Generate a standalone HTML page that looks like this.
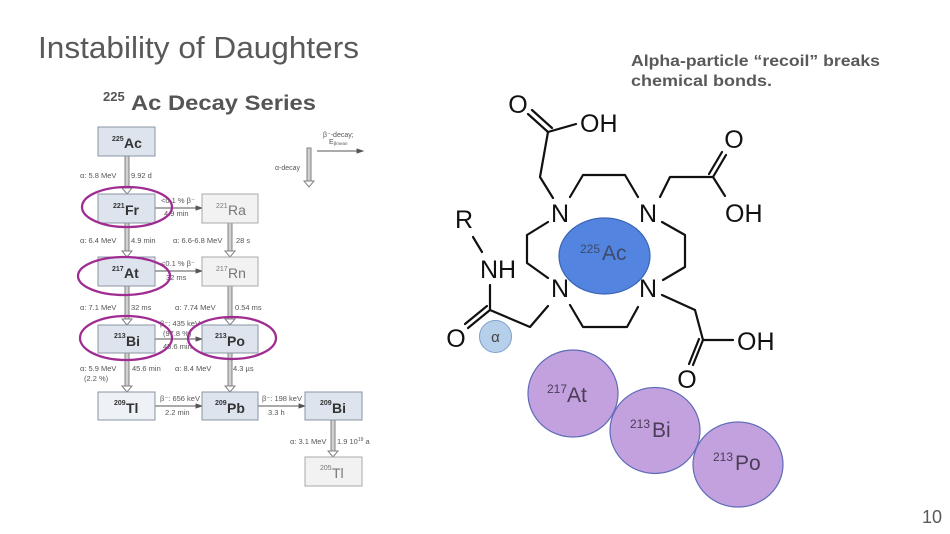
<!DOCTYPE html>
<html><head><meta charset="utf-8"><style>
html,body{margin:0;padding:0;background:#fff;}
svg{display:block;}
text{font-family:"Liberation Sans",sans-serif;}
</style></head><body>
<svg width="950" height="534" viewBox="0 0 950 534" xmlns="http://www.w3.org/2000/svg">
<rect width="950" height="534" fill="#fff"/>
<!-- Title -->
<text x="38" y="58" font-size="31" fill="#595959" textLength="321" lengthAdjust="spacingAndGlyphs">Instability of Daughters</text>
<!-- Subtitle -->
<text x="103" y="101" font-size="13" font-weight="bold" fill="#555">225</text>
<text x="131" y="110" font-size="21" font-weight="bold" fill="#555" textLength="185" lengthAdjust="spacingAndGlyphs">Ac Decay Series</text>
<!-- Right text -->
<text x="631" y="66" font-size="15.5" font-weight="bold" fill="#595959" textLength="249" lengthAdjust="spacingAndGlyphs">Alpha-particle “recoil” breaks</text>
<text x="631" y="86" font-size="15.5" font-weight="bold" fill="#595959" textLength="141" lengthAdjust="spacingAndGlyphs">chemical bonds.</text>
<!-- page number -->
<text x="922" y="523" font-size="18" fill="#595959">10</text>

<!-- ===== Decay chart ===== -->
<g stroke="#808080" stroke-width="1">
  <!-- vertical alpha arrows: shafts -->
  <g fill="#d0d0d0">
    <rect x="125" y="156" width="4" height="32"/>
    <rect x="125" y="223" width="4" height="28"/>
    <rect x="125" y="286" width="4" height="33"/>
    <rect x="125" y="353" width="4" height="33"/>
    <rect x="228" y="223" width="4" height="28"/>
    <rect x="228" y="286" width="4" height="33"/>
    <rect x="228" y="353" width="4" height="33"/>
    <rect x="331" y="420" width="4" height="31"/>
    <rect x="307" y="148" width="4" height="33"/>
  </g>
  <g fill="#fff">
    <polygon points="122,188 132,188 127,194"/>
    <polygon points="122,251 132,251 127,257"/>
    <polygon points="122,319 132,319 127,325"/>
    <polygon points="122,386 132,386 127,392"/>
    <polygon points="225,251 235,251 230,257"/>
    <polygon points="225,319 235,319 230,325"/>
    <polygon points="225,386 235,386 230,392"/>
    <polygon points="328,451 338,451 333,457"/>
    <polygon points="304,181 314,181 309,187"/>
  </g>
</g>
<!-- horizontal beta arrows -->
<g stroke="#555" stroke-width="0.9" fill="#555">
  <line x1="155" y1="208" x2="198" y2="208"/><polygon points="202,208 196,206 196,210"/>
  <line x1="155" y1="271" x2="198" y2="271"/><polygon points="202,271 196,269 196,273"/>
  <line x1="155" y1="339" x2="198" y2="339"/><polygon points="202,339 196,337 196,341"/>
  <line x1="155" y1="406" x2="198" y2="406"/><polygon points="202,406 196,404 196,408"/>
  <line x1="258" y1="406" x2="301" y2="406"/><polygon points="305,406 299,404 299,408"/>
  <line x1="317" y1="151" x2="359" y2="151"/><polygon points="363,151 357,149 357,153"/>
</g>
<!-- boxes -->
<g stroke="#8a94a3" stroke-width="1">
  <rect x="98" y="127" width="57" height="29" fill="#dde4ee"/>
  <rect x="98" y="194" width="57" height="29" fill="#dde4ee"/>
  <rect x="202" y="194" width="56" height="29" fill="#f2f2f2" stroke="#a8a8a8"/>
  <rect x="98" y="257" width="57" height="29" fill="#dde4ee"/>
  <rect x="202" y="257" width="56" height="29" fill="#f2f2f2" stroke="#a8a8a8"/>
  <rect x="98" y="325" width="57" height="28" fill="#dde4ee"/>
  <rect x="202" y="325" width="56" height="28" fill="#dde4ee"/>
  <rect x="98" y="392" width="57" height="28" fill="#eef1f5"/>
  <rect x="202" y="392" width="56" height="28" fill="#dde4ee"/>
  <rect x="305" y="392" width="57" height="28" fill="#dde4ee"/>
  <rect x="305" y="457" width="57" height="29" fill="#f2f2f2" stroke="#a8a8a8"/>
</g>
<!-- box labels -->
<g font-weight="bold" fill="#333">
  <text x="112" y="141" font-size="7">225</text><text x="124" y="148" font-size="14">Ac</text>
  <text x="113" y="208" font-size="7">221</text><text x="125" y="215" font-size="14">Fr</text>
  <text x="112" y="271" font-size="7">217</text><text x="124" y="278" font-size="14">At</text>
  <text x="114" y="338" font-size="7">213</text><text x="126" y="346" font-size="14">Bi</text>
  <text x="215" y="338" font-size="7">213</text><text x="227" y="346" font-size="14">Po</text>
  <text x="114" y="405" font-size="7">209</text><text x="126" y="413" font-size="14">Tl</text>
  <text x="215" y="405" font-size="7">209</text><text x="227" y="413" font-size="14">Pb</text>
  <text x="320" y="405" font-size="7">209</text><text x="332" y="413" font-size="14">Bi</text>
</g>
<g fill="#777" font-weight="normal">
  <text x="216" y="208" font-size="7">221</text><text x="228" y="215" font-size="14">Ra</text>
  <text x="216" y="271" font-size="7">217</text><text x="228" y="278" font-size="14">Rn</text>
  <text x="320" y="470" font-size="7">205</text><text x="332" y="478" font-size="14">Tl</text>
</g>
<!-- small labels -->
<g font-size="7.5" fill="#555">
  <text x="80" y="178">α: 5.8 MeV</text><text x="131" y="178">9.92 d</text>
  <text x="161" y="203">&lt;0.1 % β⁻</text><text x="164" y="216">4.9 min</text>
  <text x="80" y="243">α: 6.4 MeV</text><text x="131" y="243">4.9  min</text>
  <text x="173" y="243">α: 6.6-6.8 MeV</text><text x="236" y="243">28 s</text>
  <text x="161" y="266">&lt;0.1 % β⁻</text><text x="166" y="280">32 ms</text>
  <text x="80" y="310">α: 7.1 MeV</text><text x="131" y="310">32 ms</text>
  <text x="175" y="310">α: 7.74 MeV</text><text x="235" y="310">0.54 ms</text>
  <text x="160" y="326">β⁻: 435 keV</text><text x="163" y="336">(97.8 %)</text><text x="163" y="349">45.6 min</text>
  <text x="80" y="371">α: 5.9 MeV</text><text x="84" y="381">(2.2 %)</text><text x="132" y="371">45.6 min</text>
  <text x="175" y="371">α: 8.4 MeV</text><text x="233" y="371">4.3 µs</text>
  <text x="160" y="401">β⁻: 656 keV</text><text x="165" y="415">2.2 min</text>
  <text x="262" y="401">β⁻: 198 keV</text><text x="268" y="415">3.3 h</text>
  <text x="290" y="444">α: 3.1 MeV</text><text x="337" y="444">1.9 10<tspan font-size="5" dy="-3">19</tspan><tspan dy="3"> a</tspan></text>
  <text x="323" y="137" font-size="7">β⁻-decay;</text>
  <text x="329" y="144" font-size="7">E<tspan font-size="4.5" dy="1">βmean</tspan></text>
  <text x="275" y="170" font-size="7">α-decay</text>
</g>
<!-- purple ellipses -->
<g fill="none" stroke="#a02c92" stroke-width="2.3">
  <ellipse cx="127" cy="207" rx="45" ry="20"/>
  <ellipse cx="124" cy="276" rx="46" ry="19"/>
  <ellipse cx="126" cy="338" rx="46" ry="22"/>
  <ellipse cx="232" cy="338" rx="44" ry="21"/>
</g>

<!-- ===== Chemistry ===== -->
<ellipse cx="604.5" cy="256" rx="45.5" ry="38" fill="#5384e0" stroke="#3b64b5" stroke-width="1.2"/>
<text x="580" y="253" font-size="12" fill="#3d4a6a">225</text>
<text x="602" y="260" font-size="21" fill="#3d4a6a">Ac</text>

<g stroke="#111" stroke-width="2.2" fill="none" stroke-linecap="round" stroke-linejoin="round">
  <!-- top-left acid -->
  <polyline points="553,198 540,177 548,132 576,124"/>
  <line x1="548" y1="132" x2="528" y2="114"/>
  <line x1="552" y1="128" x2="532" y2="110"/>
  <!-- top ring -->
  <polyline points="570,197 583,175 625,175 638,197"/>
  <!-- top-right acid -->
  <polyline points="660,197 670,177 713,177 725,196"/>
  <line x1="713" y1="177" x2="726" y2="155"/>
  <line x1="709" y1="174" x2="722" y2="152"/>
  <!-- left ring -->
  <polyline points="548,222 527,235 527,263 548,278"/>
  <!-- right ring -->
  <polyline points="662,222 685,235 685,267 663,280"/>
  <!-- bottom ring -->
  <polyline points="570,305 583,327 627,327 638,307"/>
  <!-- left amide arm -->
  <polyline points="548,306 530,327 490,310 490,285"/>
  <line x1="490" y1="310" x2="468" y2="328"/>
  <line x1="487" y1="306" x2="465" y2="324"/>
  <line x1="473" y1="237" x2="482" y2="252"/>
  <!-- bottom-right acid -->
  <polyline points="662,295 695,310 703,340 733,340"/>
  <line x1="703" y1="340" x2="693" y2="365"/>
  <line x1="699" y1="339" x2="689" y2="364"/>
</g>
<g font-size="25" fill="#111">
  <text x="518" y="113" text-anchor="middle">O</text>
  <text x="580" y="132">OH</text>
  <text x="560" y="222" text-anchor="middle">N</text>
  <text x="648" y="222" text-anchor="middle">N</text>
  <text x="734" y="148" text-anchor="middle">O</text>
  <text x="725" y="222">OH</text>
  <text x="464" y="228" text-anchor="middle">R</text>
  <text x="480" y="278">NH</text>
  <text x="560" y="297" text-anchor="middle">N</text>
  <text x="648" y="297" text-anchor="middle">N</text>
  <text x="456" y="347" text-anchor="middle">O</text>
  <text x="737" y="350">OH</text>
  <text x="687" y="388" text-anchor="middle">O</text>
</g>
<!-- alpha particle -->
<circle cx="495.5" cy="336.5" r="16" fill="#b6cfea" stroke="#7f9fc8" stroke-width="1"/>
<text x="495.5" y="342" font-size="15" fill="#444" text-anchor="middle" font-family="Liberation Serif, serif">α</text>

<!-- purple daughter circles -->
<g fill="#c3a0de" stroke="#5e6cb8" stroke-width="1.2">
  <ellipse cx="573" cy="393.5" rx="45" ry="43.5"/>
  <ellipse cx="655" cy="430.5" rx="45" ry="43"/>
  <ellipse cx="738" cy="464.5" rx="45" ry="42.5"/>
</g>
<g fill="#4a3e58">
  <text x="547" y="393" font-size="12">217</text><text x="567" y="402" font-size="21">At</text>
  <text x="630" y="428" font-size="12">213</text><text x="652" y="437" font-size="21">Bi</text>
  <text x="713" y="461" font-size="12">213</text><text x="735" y="470" font-size="21">Po</text>
</g>
</svg>
</body></html>
